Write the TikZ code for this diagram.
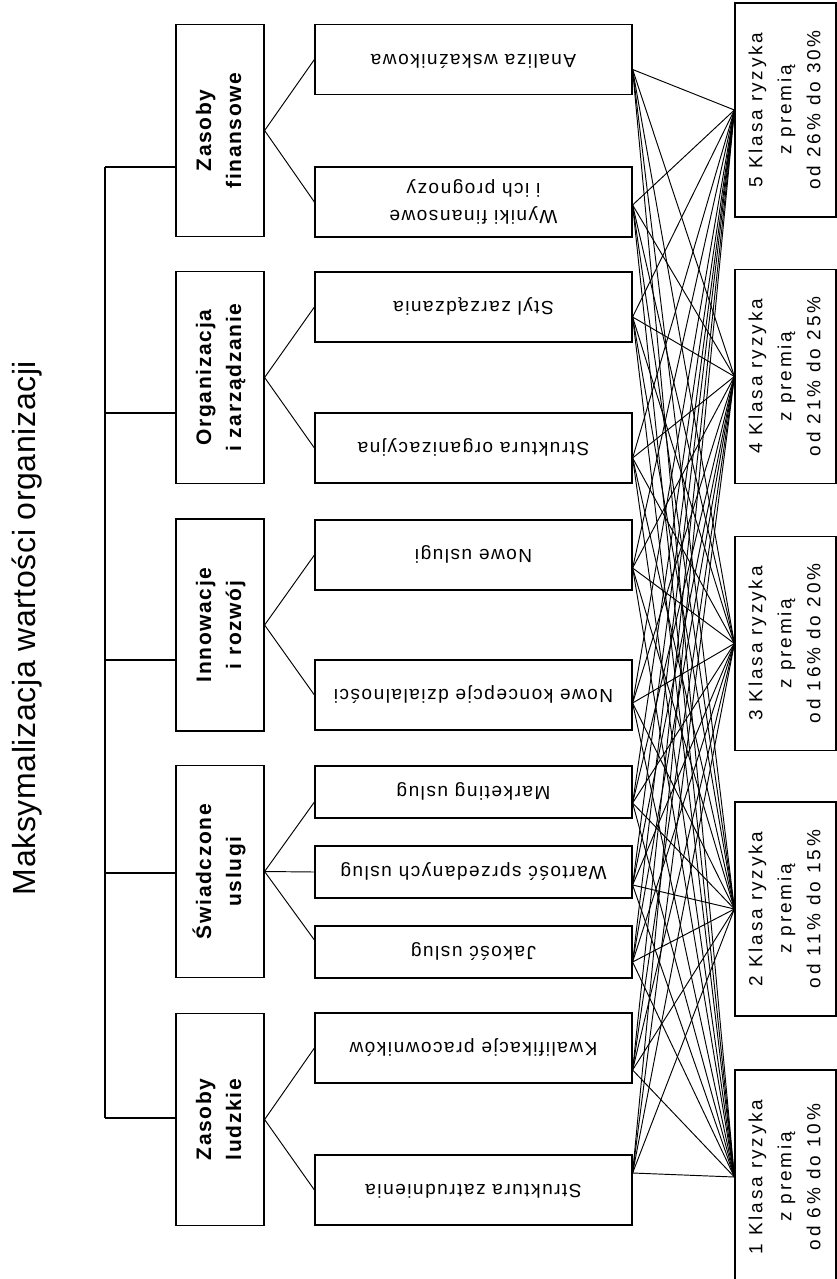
\documentclass[tikz,border=0pt]{standalone}
\usepackage{fontspec}
\setmainfont{Liberation Sans}
\newfontfamily\titlefont[LetterSpace=2]{Liberation Sans}
\newfontfamily\catfont[LetterSpace=8]{Liberation Sans}
\newfontfamily\boxfont[LetterSpace=8]{Liberation Sans}
\newfontfamily\riskfont[LetterSpace=15]{Liberation Sans}
\usepackage{graphicx}
\usetikzlibrary{positioning,calc}

\newcommand{\rottext}[1]{\rotatebox{90}{\begin{tabular}{@{}c@{}}#1\end{tabular}}}
\newcommand{\fliptext}[1]{\rotatebox{180}{\begin{tabular}{@{}c@{}}#1\end{tabular}}}

\begin{document}
\begin{tikzpicture}[x=1pt, y=-1pt,
  box/.style={draw, line width=1.2pt, inner sep=0pt},
  cat/.style={box, minimum width=88pt, minimum height=212pt, font=\catfont\bfseries\fontsize{21}{30}\selectfont},
  sub/.style={box, minimum width=317pt, minimum height=70pt, font=\boxfont\fontsize{19}{27}\selectfont},
  small/.style={sub, minimum height=52pt},
  risk/.style={box, minimum width=101pt, minimum height=214pt, font=\riskfont\fontsize{19}{29}\selectfont},
  link/.style={line width=0.95pt},
  trunk/.style={line width=1.2pt}
]
  \useasboundingbox (0,0) rectangle (837,1279);

  \node[rotate=90, anchor=base, font=\titlefont\fontsize{32}{38}\selectfont] (title) at (35,628) {Maksymalizacja wartości organizacji};

  % main areas
  \node[cat] (zf) at (220,130.5)  {\rottext{Zasoby\\finansowe}};
  \node[cat] (oz) at (220,377.5)  {\rottext{Organizacja\\i zarządzanie}};
  \node[cat] (ir) at (220,625)    {\rottext{Innowacje\\i rozwój}};
  \node[cat] (su) at (220,871.5)  {\rottext{Świadczone\\uslugi}};
  \node[cat] (zl) at (220,1119.5) {\rottext{Zasoby\\ludzkie}};

  % measures
  \node[sub]   (aw) at (473.5,59.5) {\fliptext{Analiza wskaźnikowa}};
  \node[sub]   (wf) at (473.5,202)  {\fliptext{Wyniki finansowe\\i ich prognozy}};
  \node[sub]   (sz) at (473.5,307)  {\fliptext{Styl zarządzania}};
  \node[sub]   (so) at (473.5,448)  {\fliptext{Struktura organizacyjna}};
  \node[sub]   (nu) at (473.5,555)  {\fliptext{Nowe uslugi}};
  \node[sub]   (nk) at (473.5,695)  {\fliptext{Nowe koncepcje dzialalności}};
  \node[small] (mu) at (473.5,792)  {\fliptext{Marketing uslug}};
  \node[small] (ws) at (473.5,872)  {\fliptext{Wartość sprzedanych uslug}};
  \node[small] (ju) at (473.5,952)  {\fliptext{Jakość uslug}};
  \node[sub]   (kp) at (473.5,1048) {\fliptext{Kwalifikacje pracowników}};
  \node[sub]   (st) at (473.5,1190) {\fliptext{Struktura zatrudnienia}};

  % risk classes
  \node[risk] (k5) at (785.5,110)   {\rottext{5 Klasa ryzyka\\z premią\\od 26\% do 30\%}};
  \node[risk] (k4) at (785.5,376.5) {\rottext{4 Klasa ryzyka\\z premią\\od 21\% do 25\%}};
  \node[risk] (k3) at (785.5,643.5) {\rottext{3 Klasa ryzyka\\z premią\\od 16\% do 20\%}};
  \node[risk] (k2) at (785.5,909)   {\rottext{2 Klasa ryzyka\\z premią\\od 11\% do 15\%}};
  \node[risk] (k1) at (785.5,1177)  {\rottext{1 Klasa ryzyka\\z premią\\od 6\% do 10\%}};

  % tree on the left
  \coordinate (t1) at (105,167);
  \coordinate (t2) at (105,413);
  \coordinate (t3) at (105,660);
  \coordinate (t4) at (105,873);
  \coordinate (t5) at (105,1118);
  \draw[trunk] (t1) -- (t5);
  \draw[trunk] (t1) -- (t1 -| zf.west);
  \draw[trunk] (t2) -- (t2 -| oz.west);
  \draw[trunk] (t3) -- (t3 -| ir.west);
  \draw[trunk] (t4) -- (t4 -| su.west);
  \draw[trunk] (t5) -- (t5 -| zl.west);

  \draw[link] (zf.east) -- (aw.west);
  \draw[link] (zf.east) -- (wf.west);
  \draw[link] (oz.east) -- (sz.west);
  \draw[link] (oz.east) -- (so.west);
  \draw[link] (ir.east) -- (nu.west);
  \draw[link] (ir.east) -- (nk.west);
  \draw[link] (su.east) -- ($(mu.west)+(0,10)$);
  \draw[link] (su.east) -- (ws.west);
  \draw[link] (su.east) -- ($(ju.west)+(0,-12)$);
  \draw[link] (zl.east) -- (kp.west);
  \draw[link] (zl.east) -- (st.west);

  % every measure to every class
  \coordinate (aw-r) at ($(aw.east)+(0,10)$);
  \coordinate (wf-r) at ($(wf.east)+(0,3)$);
  \coordinate (sz-r) at ($(sz.east)+(0,10)$);
  \coordinate (so-r) at ($(so.east)+(0,10)$);
  \coordinate (nu-r) at ($(nu.east)+(0,13)$);
  \coordinate (nk-r) at ($(nk.east)+(0,8)$);
  \coordinate (mu-r) at ($(mu.east)+(0,11)$);
  \coordinate (ws-r) at ($(ws.east)+(0,13)$);
  \coordinate (ju-r) at ($(ju.east)+(0,10)$);
  \coordinate (kp-r) at ($(kp.east)+(0,22)$);
  \coordinate (st-r) at ($(st.east)+(0,-17)$);
  \foreach \m in {aw,wf,sz,so,nu,nk,mu,ws,ju,kp,st}
    \foreach \k in {k1,k2,k3,k4,k5}
      \draw[link] (\m-r) -- (\k.west);
\end{tikzpicture}
\end{document}
